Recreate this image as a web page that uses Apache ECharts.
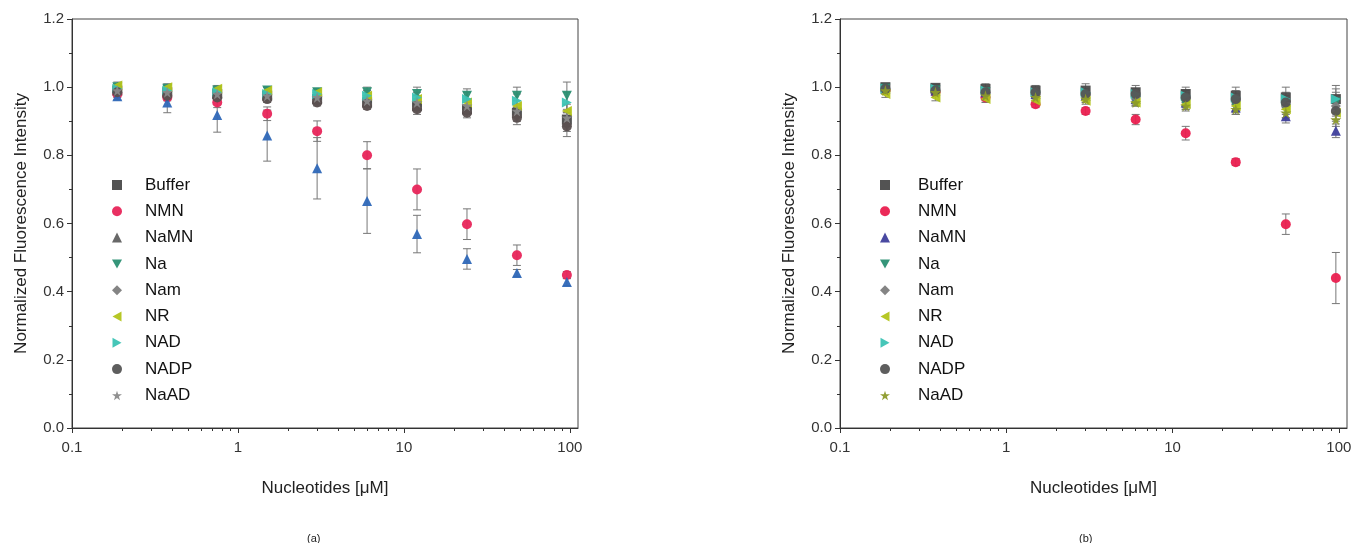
<!DOCTYPE html>
<html>
<head>
<meta charset="utf-8">
<title>Fluorescence vs nucleotides</title>
<script src="https://cdn.jsdelivr.net/npm/echarts@6/dist/echarts.min.js"></script>
<style>
  html, body { margin: 0; padding: 0; background: #fff; }
  #chart { width: 1368px; height: 543px; }
</style>
</head>
<body>
<div id="chart"></div>
<script>
// concentrations (uM), same for both panels
const concentrations = [0.1875, 0.375, 0.75, 1.5, 3, 6, 12, 24, 48, 96]
const seriesNames = ['Buffer', 'NMN', 'NaMN', 'Na', 'Nam', 'NR', 'NAD', 'NADP', 'NaAD']
const xMajorTicks = [0.1, 1, 10, 100]
const xMinorTicks = [0.2, 0.3, 0.4, 0.5, 0.6, 0.7, 0.8, 0.9, 2, 3, 4, 5, 6, 7, 8, 9, 20, 30, 40, 50, 60, 70, 80, 90]

// panel (a)
const bufferA = [0.99, 0.985, 0.98, 0.975, 0.965, 0.955, 0.945, 0.935, 0.925, 0.905]
const nmnA = [0.98, 0.97, 0.955, 0.922, 0.871, 0.80, 0.70, 0.598, 0.507, 0.449]
const namnA = [0.973, 0.955, 0.918, 0.858, 0.762, 0.666, 0.569, 0.496, 0.455, 0.428]
const naA = [1.0, 0.995, 0.99, 0.99, 0.985, 0.985, 0.98, 0.975, 0.975, 0.975]
const namA = [0.985, 0.98, 0.975, 0.97, 0.96, 0.95, 0.94, 0.93, 0.915, 0.89]
const nrA = [1.005, 1.0, 0.995, 0.99, 0.985, 0.975, 0.965, 0.955, 0.945, 0.93]
const nadA = [0.995, 0.99, 0.985, 0.98, 0.98, 0.975, 0.97, 0.965, 0.96, 0.955]
const nadpA = [0.985, 0.975, 0.97, 0.965, 0.955, 0.945, 0.935, 0.925, 0.91, 0.885]
const naadA = [0.99, 0.985, 0.98, 0.975, 0.97, 0.96, 0.955, 0.945, 0.93, 0.91]

const bufferErrA = [0.01, 0.01, 0.01, 0.01, 0.01, 0.01, 0.01, 0.01, 0.01, 0.02]
const nmnErrA = [0.01, 0.01, 0.015, 0.02, 0.03, 0.04, 0.06, 0.045, 0.03, 0.01]
const namnErrA = [0.01, 0.03, 0.05, 0.075, 0.09, 0.095, 0.055, 0.03, 0.01, 0.01]
const naErrA = [0.01, 0.01, 0.01, 0.01, 0.01, 0.015, 0.02, 0.02, 0.025, 0.04]
const namErrA = [0.01, 0.01, 0.01, 0.01, 0.01, 0.01, 0.01, 0.01, 0.015, 0.02]
const nrErrA = [0.01, 0.01, 0.01, 0.01, 0.01, 0.01, 0.01, 0.01, 0.015, 0.02]
const nadErrA = [0.01, 0.01, 0.01, 0.01, 0.01, 0.015, 0.015, 0.02, 0.02, 0.03]
const nadpErrA = [0.01, 0.01, 0.01, 0.01, 0.01, 0.01, 0.015, 0.015, 0.02, 0.03]
const naadErrA = [0.01, 0.01, 0.01, 0.01, 0.01, 0.01, 0.01, 0.015, 0.015, 0.02]

// panel (b)
const bufferB = [1.0, 0.998, 0.995, 0.99, 0.99, 0.985, 0.98, 0.975, 0.97, 0.965]
const nmnB = [0.99, 0.985, 0.97, 0.95, 0.93, 0.905, 0.865, 0.78, 0.598, 0.44]
const namnB = [0.995, 0.99, 0.985, 0.98, 0.975, 0.965, 0.955, 0.94, 0.915, 0.872]
const naB = [0.995, 0.99, 0.985, 0.975, 0.97, 0.96, 0.95, 0.945, 0.935, 0.955]
const namB = [0.995, 0.99, 0.985, 0.98, 0.975, 0.97, 0.965, 0.96, 0.945, 0.945]
const nrB = [0.98, 0.97, 0.965, 0.96, 0.96, 0.955, 0.95, 0.945, 0.935, 0.925]
const nadB = [0.995, 0.995, 0.99, 0.985, 0.985, 0.98, 0.975, 0.97, 0.965, 0.965]
const nadpB = [0.995, 0.99, 0.985, 0.985, 0.98, 0.98, 0.97, 0.965, 0.955, 0.93]
const naadB = [0.99, 0.985, 0.975, 0.97, 0.965, 0.955, 0.945, 0.935, 0.925, 0.905]

const bufferErrB = [0.01, 0.01, 0.015, 0.015, 0.02, 0.02, 0.02, 0.025, 0.03, 0.04]
const nmnErrB = [0.01, 0.01, 0.01, 0.01, 0.01, 0.015, 0.02, 0.01, 0.03, 0.075]
const namnErrB = [0.01, 0.01, 0.01, 0.01, 0.01, 0.015, 0.02, 0.02, 0.02, 0.02]
const naErrB = [0.01, 0.01, 0.01, 0.01, 0.01, 0.015, 0.02, 0.02, 0.025, 0.03]
const namErrB = [0.01, 0.01, 0.01, 0.01, 0.01, 0.01, 0.015, 0.015, 0.02, 0.03]
const nrErrB = [0.01, 0.01, 0.01, 0.01, 0.01, 0.01, 0.01, 0.015, 0.015, 0.02]
const nadErrB = [0.01, 0.01, 0.01, 0.01, 0.01, 0.015, 0.015, 0.02, 0.02, 0.03]
const nadpErrB = [0.01, 0.01, 0.01, 0.01, 0.01, 0.01, 0.015, 0.015, 0.02, 0.03]
const naadErrB = [0.01, 0.01, 0.01, 0.01, 0.01, 0.01, 0.01, 0.015, 0.015, 0.02]

const valuesA = [bufferA, nmnA, namnA, naA, namA, nrA, nadA, nadpA, naadA]
const errorsA = [bufferErrA, nmnErrA, namnErrA, naErrA, namErrA, nrErrA, nadErrA, nadpErrA, naadErrA]
const valuesB = [bufferB, nmnB, namnB, naB, namB, nrB, nadB, nadpB, naadB]
const errorsB = [bufferErrB, nmnErrB, namnErrB, naErrB, namErrB, nrErrB, nadErrB, nadpErrB, naadErrB]

// marker styles
const STAR = 'path://M50,0 L61,35 L98,35 L68,57 L79,91 L50,70 L21,91 L32,57 L2,35 L39,35 Z'
const TRI_DOWN = 'path://M0,0 L10,0 L5,9 Z'
const TRI_LEFT = 'path://M0,5 L9,0 L9,10 Z'
const TRI_RIGHT = 'path://M0,0 L9,5 L0,10 Z'
const symbols = ['rect', 'circle', 'triangle', TRI_DOWN, 'diamond', TRI_LEFT, TRI_RIGHT, 'circle', STAR]
const colorsA = ['#4a4a4a', '#e8255a', '#2f68b8', '#2a8f72', '#7d7d7d', '#b2c41a', '#3cc3b4', '#5a4f4f', '#8a8a8a']
const legendColorsA = ['#4a4a4a', '#e8255a', '#606060', '#2a8f72', '#7d7d7d', '#b2c41a', '#3cc3b4', '#555555', '#8a8a8a']
const colorsB = ['#4a4a4a', '#ea1f4f', '#3f3f9c', '#2a8f72', '#7d7d7d', '#b2c41a', '#3cc3b4', '#555555', '#8c9a2a']

const chart = echarts.init(document.getElementById('chart'))

const axisColor = '#333'

function makeAxes (gridIndex) {
  const x = [
    {
      type: 'log', gridIndex, min: 0.1, max: 112, position: 'bottom',
      name: 'Nucleotides [\u03bcM]', nameLocation: 'middle', nameGap: 52,
      nameTextStyle: { fontSize: 17, color: '#222', fontFamily: 'Liberation Sans' },
      axisLine: { lineStyle: { color: axisColor, width: 1 } },
      axisTick: { customValues: xMajorTicks, length: 5, lineStyle: { color: axisColor } },
      axisLabel: {
        customValues: xMajorTicks, margin: 12, fontSize: 15, color: '#333', fontFamily: 'Liberation Sans',
        formatter: (v) => String(v)
      },
      splitLine: { show: false }
    },
    {
      type: 'log', gridIndex, min: 0.1, max: 112, position: 'bottom',
      axisLine: { show: false },
      axisTick: { customValues: xMinorTicks, length: 3, lineStyle: { color: axisColor } },
      axisLabel: { show: false },
      splitLine: { show: false }
    }
  ]
  const y = {
    type: 'value', gridIndex, min: 0, max: 1.2, interval: 0.2,
    name: 'Normalized Fluorescence Intensity', nameLocation: 'middle', nameGap: 42,
    nameTextStyle: { fontSize: 17, color: '#222', fontFamily: 'Liberation Sans' },
    axisLine: { show: true, lineStyle: { color: axisColor, width: 1 } },
    axisTick: { show: true, length: 5, lineStyle: { color: axisColor } },
    minorTick: { show: true, splitNumber: 2, length: 3, lineStyle: { color: axisColor } },
    axisLabel: { fontSize: 15, color: '#333', margin: 8, fontFamily: 'Liberation Sans', formatter: (v) => v.toFixed(1) },
    splitLine: { show: false }
  }
  return { x, y }
}

const axA = makeAxes(0)
const axB = makeAxes(1)

function buildSeries (values, errors, colors, xAxisIndex, yAxisIndex) {
  const out = []
  const bars = []
  values.forEach((vals, s) => {
    vals.forEach((v, i) => {
      bars.push([concentrations[i], v - errors[s][i], v + errors[s][i]])
    })
  })
  out.push({
    type: 'custom',
    name: 'errorbars',
    xAxisIndex, yAxisIndex,
    silent: true,
    z: 1,
    encode: { x: 0, y: [1, 2] },
    data: bars,
    renderItem: (params, api) => {
      const top = api.coord([api.value(0), api.value(2)])
      const bot = api.coord([api.value(0), api.value(1)])
      const w = 4
      const st = { stroke: '#777', lineWidth: 1 }
      return {
        type: 'group',
        children: [
          { type: 'line', shape: { x1: top[0], y1: top[1], x2: bot[0], y2: bot[1] }, style: st },
          { type: 'line', shape: { x1: top[0] - w, y1: top[1], x2: top[0] + w, y2: top[1] }, style: st },
          { type: 'line', shape: { x1: bot[0] - w, y1: bot[1], x2: bot[0] + w, y2: bot[1] }, style: st }
        ]
      }
    }
  })
  values.forEach((vals, s) => {
    out.push({
      type: 'scatter',
      name: seriesNames[s],
      xAxisIndex, yAxisIndex,
      z: 2 + s,
      symbol: symbols[s],
      symbolSize: s === 8 ? 11 : 10,
      itemStyle: { color: colors[s], opacity: 0.95 },
      data: vals.map((v, i) => [concentrations[i], v])
    })
  })
  return out
}

function legendData (colors) {
  return seriesNames.map((n, s) => ({ name: n, icon: symbols[s], itemStyle: { color: colors[s] } }))
}

const legendBase = {
  orient: 'vertical',
  itemWidth: 10,
  itemHeight: 10,
  itemGap: 8.3,
  selectedMode: false
}
const legendText = { fontSize: 17, color: '#111', fontFamily: 'Liberation Sans', lineHeight: 18 }

const option = {
  animation: false,
  backgroundColor: '#fff',
  title: [
    { text: '(a)', left: 302, top: 528, textStyle: { fontSize: 11, fontWeight: 'normal', color: '#222', fontFamily: 'Liberation Sans' } },
    { text: '(b)', left: 1074, top: 528, textStyle: { fontSize: 11, fontWeight: 'normal', color: '#222', fontFamily: 'Liberation Sans' } }
  ],
  grid: [
    { left: 72, right: 790, top: 19, bottom: 115, show: true, borderColor: '#444', borderWidth: 1, backgroundColor: 'transparent' },
    { left: 840, right: 21, top: 19, bottom: 115, show: true, borderColor: '#444', borderWidth: 1, backgroundColor: 'transparent' }
  ],
  legend: [
    Object.assign({}, legendBase, {
      left: 107, top: 171, data: legendData(legendColorsA),
      textStyle: Object.assign({ padding: [0, 0, 0, 18] }, legendText)
    }),
    Object.assign({}, legendBase, {
      left: 875, top: 171, data: legendData(colorsB),
      textStyle: Object.assign({ padding: [0, 0, 0, 23] }, legendText)
    })
  ],
  xAxis: axA.x.concat(axB.x),
  yAxis: [axA.y, axB.y],
  series: buildSeries(valuesA, errorsA, colorsA, 0, 0)
    .concat(buildSeries(valuesB, errorsB, colorsB, 2, 1))
}

chart.setOption(option)
</script>
</body>
</html>
